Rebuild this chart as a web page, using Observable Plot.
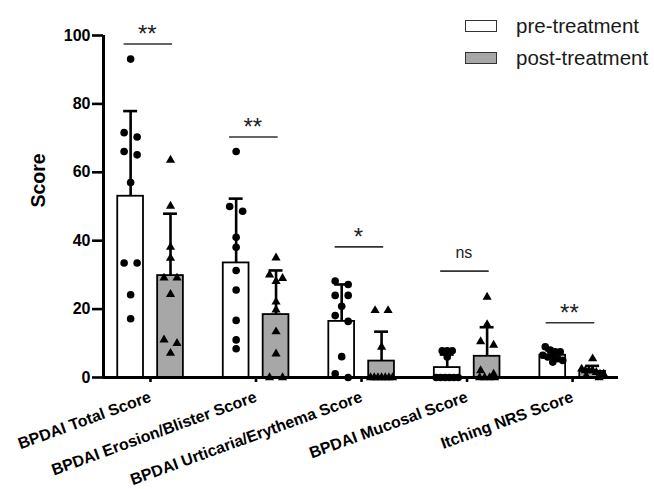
<!DOCTYPE html>
<html>
<head>
<meta charset="utf-8">
<script src="https://cdn.jsdelivr.net/npm/d3@7"></script>
<script src="https://cdn.jsdelivr.net/npm/@observablehq/plot@0.6"></script>
<style>
  html, body { margin: 0; padding: 0; background: #fff; }
  #wrap { position: relative; width: 654px; height: 489px; font-family: "Liberation Sans", Arial, sans-serif; }
  .leg { position: absolute; left: 465px; display: flex; align-items: center; font-size: 20.5px; color: #1a1a1a; }
  .leg .box { width: 30px; height: 10px; border: 1.5px solid #333; margin-right: 19px; }
</style>
</head>
<body>
<div id="wrap"></div>
<script>
// ---- data ----
const categories = ["BPDAI Total Score", "BPDAI Erosion/Blister Score", "BPDAI Urticaria/Erythema Score", "BPDAI Mucosal Score", "Itching NRS Score"];
const series = ["pre-treatment", "post-treatment"];
const preMean = [53.0, 33.5, 16.4, 2.9, 6.5];
const preSD = [24.9, 18.8, 10.8, 3.8, 1.4];
const postMean = [29.8, 18.4, 4.8, 6.2, 1.8];
const postSD = [18.1, 12.9, 8.6, 8.5, 1.6];
const prePoints = [
  [93.1, 71.6, 70.3, 66.1, 65.1, 57.0, 33.5, 33.5, 24.2, 17.2],
  [66.1, 50.0, 48.6, 41.0, 38.1, 31.3, 25.6, 16.7, 11.0, 8.4],
  [28.2, 27.2, 24.0, 24.0, 20.8, 18.1, 16.4, 6.1, 1.1, 0],
  [7.8, 7.8, 7.8, 6.0, 0, 0, 0, 0, 0, 0],
  [9.0, 8.0, 7.5, 7.5, 6.5, 6.0, 6.0, 5.5, 5.0, 4.5]
];
const postPoints = [
  [63.6, 50.1, 38.1, 34.9, 29.1, 29.1, 24.3, 11.0, 10.0, 7.1],
  [35.0, 30.0, 29.0, 28.1, 22.1, 19.8, 13.4, 6.9, 0, 0],
  [19.6, 19.6, 8.9, 0, 0, 0, 0, 0, 0, 0],
  [23.5, 15.5, 10.5, 9.5, 2.0, 1.0, 0, 0, 0, 0],
  [5.5, 2.5, 2.0, 2.0, 2.0, 1.5, 1.0, 1.0, 0.5, 0]
];
const sigLabels = ["**", "**", "*", "ns", "**"];
const sigY = [97.5, 70.3, 38.2, 31.1, 16.0];
const yTicks = [0, 20, 40, 60, 80, 100];
const yLabel = "Score";

// ---- layout constants ----
const W = 654, H = 489;
const mL = 103, mR = 36, mT = 35, mB = 112;
const xDomain = [-0.445, 4.435];
const yDomain = [0, 100];
const xPx = (W - mL - mR) / (xDomain[1] - xDomain[0]);
const yPx = (H - mT - mB) / (yDomain[1] - yDomain[0]);
const groupOffset = [-0.188, 0.19];
const halfBar = 0.122;
const capHalf = 0.066;
const GRAY = "#a7a7a7";

const bars = [];
categories.forEach((c, i) => {
  bars.push({i, s: 0, mean: preMean[i], sd: preSD[i]});
  bars.push({i, s: 1, mean: postMean[i], sd: postSD[i]});
});
const xc = d => d.i + groupOffset[d.s];

// scatter arrangement (rows of near-equal values spread sideways)
function arrange(values, i, s) {
  const pts = values.map(v => ({v})).sort((a, b) => b.v - a.v);
  const rows = [];
  for (const p of pts) {
    const row = rows[rows.length - 1];
    if (row && (row[0].v - p.v) * yPx < 6) row.push(p); else rows.push([p]);
  }
  for (const row of rows) {
    const n = row.length;
    const sp = n === 1 ? 0 : n === 2 ? 13 : Math.min(5, 22 / (n - 1));
    row.forEach((p, k) => p.off = (k - (n - 1) / 2) * sp);
  }
  return pts.map(p => ({i, s, v: p.v, x: i + groupOffset[s] + p.off / xPx}));
}
const preDots = prePoints.flatMap((vals, i) => arrange(vals, i, 0));
const postDots = postPoints.flatMap((vals, i) => arrange(vals, i, 1));
const sig = categories.map((c, i) => ({i, label: sigLabels[i], y: sigY[i]}));

const chart = Plot.plot({
  width: W, height: H,
  marginLeft: mL, marginRight: mR, marginTop: mT, marginBottom: mB,
  style: {fontFamily: "'Liberation Sans', Arial, sans-serif", color: "black", background: "white", overflow: "visible"},
  x: {type: "linear", domain: xDomain},
  y: {domain: yDomain},
  marks: [
    Plot.rectY(bars, {x1: d => xc(d) - halfBar, x2: d => xc(d) + halfBar, y1: 0, y2: "mean",
      fill: d => d.s ? GRAY : "white", stroke: "black", strokeWidth: 1.8}),
    Plot.ruleX(bars, {x: xc, y1: "mean", y2: d => d.mean + d.sd, stroke: "black", strokeWidth: 2.6}),
    Plot.ruleY(bars, {y: d => d.mean + d.sd, x1: d => xc(d) - capHalf, x2: d => xc(d) + capHalf, stroke: "black", strokeWidth: 2.6}),
    Plot.dot(preDots, {x: "x", y: "v", r: 3.8, fill: "black", symbol: "circle"}),
    Plot.dot(postDots, {x: "x", y: "v", r: 3.4, fill: "black", symbol: "triangle"}),
    Plot.ruleY(sig, {y: "y", x1: d => d.i - 0.25, x2: d => d.i + 0.21, stroke: "#333", strokeWidth: 1.6}),
    Plot.text(sig.filter(d => d.label !== "ns"), {x: d => d.i - 0.03, y: "y", text: "label", lineAnchor: "bottom", dy: -2, fontSize: 24, fill: "#222"}),
    Plot.text(sig.filter(d => d.label === "ns"), {x: d => d.i - 0.03, y: "y", text: "label", lineAnchor: "bottom", dy: -13, fontSize: 16, fill: "#222"}),
    Plot.ruleY([0], {stroke: "black", strokeWidth: 3}),
    Plot.ruleX([xDomain[0]], {stroke: "black", strokeWidth: 3}),
    Plot.axisY({ticks: yTicks, tickSize: 11, tickPadding: 2, fontSize: 16, fontWeight: "bold", strokeWidth: 2.6, label: null}),
    Plot.axisX({ticks: categories.map((c, i) => i), tickFormat: i => categories[i], tickRotate: -20,
      tickSize: 5, tickPadding: 14, fontSize: 16, fontWeight: "bold", strokeWidth: 2.6, label: null}),
    Plot.text([yLabel], {text: d => d, frameAnchor: "left", rotate: -90, dx: -65, dy: 1, fontSize: 19.5, fontWeight: "bold", fill: "black"})
  ]
});

const wrap = document.getElementById("wrap");
wrap.appendChild(chart);
series.forEach((name, k) => {
  const item = document.createElement("div");
  item.className = "leg";
  item.style.top = (k === 0 ? 14 : 46) + "px";
  const box = document.createElement("div");
  box.className = "box";
  box.style.background = k === 0 ? "white" : GRAY;
  const label = document.createElement("span");
  label.textContent = name;
  item.appendChild(box);
  item.appendChild(label);
  wrap.appendChild(item);
});
</script>
</body>
</html>
